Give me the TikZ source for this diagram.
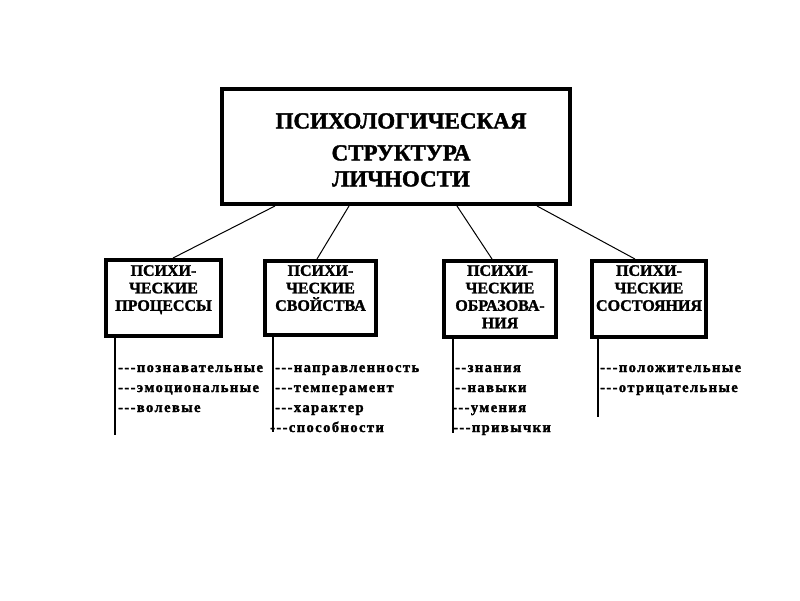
\documentclass[tikz,border=0pt]{standalone}
\usepackage{fontspec}
\setmainfont{Liberation Serif}[BoldFont={Liberation Serif Bold}]
\newfontfamily\boldfont{Liberation Serif Bold}[FakeBold=1.6]
\newfontfamily\itemfont{Liberation Serif Bold}[LetterSpace=10, FakeBold=2]
\usetikzlibrary{positioning}

\newcommand{\dsh}{-\kern1.4pt}

\tikzset{
  topbox/.style={draw, line width=4pt, minimum width=348pt, minimum height=115pt, inner sep=0pt},
  subbox/.style={draw, line width=4pt, inner sep=0pt},
  toptext/.style={anchor=north, align=center, inner sep=0pt, font=\fontsize{23}{29}\boldfont},
  boxtext/.style={anchor=north, align=center, inner sep=0pt, font=\fontsize{16}{17.5}\boldfont},
  item/.style={anchor=base west, inner sep=0pt, font=\fontsize{14.5}{16}\itemfont},
  link/.style={line width=1pt},
  stem/.style={line width=1.5pt}
}

\begin{document}
\begin{tikzpicture}[x=1pt, y=-1pt]
  \useasboundingbox (0,0) rectangle (800,600);

  % Boxes
  \node[topbox] (main) at (396,146.5) {};
  \node[toptext] (maintext) at (401,113)
    {ПСИХОЛОГИЧЕСКАЯ\\[3pt] СТРУКТУРА\\[-3pt] ЛИЧНОСТИ};

  \node[subbox, minimum width=115pt, minimum height=76pt] (proc) at (163.5,298) {};
  \node[subbox, minimum width=111pt, minimum height=74pt] (svoj) at (320.5,298) {};
  \node[subbox, minimum width=112pt, minimum height=76pt] (obraz) at (500,299) {};
  \node[subbox, minimum width=114pt, minimum height=76pt] (sost) at (649,299) {};

  \node[boxtext] (proctext) at (163.5,265) {ПСИХИ-\\ЧЕСКИЕ\\ПРОЦЕССЫ};
  \node[boxtext] (svojtext) at (320.5,265) {ПСИХИ-\\ЧЕСКИЕ\\СВОЙСТВА};
  \node[boxtext] (obraztext) at (500,265) {ПСИХИ-\\ЧЕСКИЕ\\ОБРАЗОВА-\\НИЯ};
  \node[boxtext] (sosttext) at (649,265) {ПСИХИ-\\ЧЕСКИЕ\\СОСТОЯНИЯ};

  % Lists
  \node[item] (proc1) at (118,372) {\dsh\dsh\dsh познавательные};
  \node[item] (proc2) at (118,392) {\dsh\dsh\dsh эмоциональные};
  \node[item] (proc3) at (118,412) {\dsh\dsh\dsh волевые};

  \node[item] (svoj1) at (275,372) {\dsh\dsh\dsh направленность};
  \node[item] (svoj2) at (275,392) {\dsh\dsh\dsh темперамент};
  \node[item] (svoj3) at (275,412) {\dsh\dsh\dsh характер};
  \node[item] (svoj4) at (270,432) {\dsh\dsh\dsh способности};

  \node[item] (obraz1) at (455,372) {\dsh\dsh знания};
  \node[item] (obraz2) at (455,392) {\dsh\dsh навыки};
  \node[item] (obraz3) at (452,412) {\dsh\dsh\dsh умения};
  \node[item] (obraz4) at (453,432) {\dsh\dsh\dsh привычки};

  \node[item] (sost1) at (600,372) {\dsh\dsh\dsh положительные};
  \node[item] (sost2) at (600,392) {\dsh\dsh\dsh отрицательные};

  % Drawing
  \draw[link] ([xshift=-121pt]main.south) -- ([xshift=9.5pt]proc.north);
  \draw[link] ([xshift=-47pt]main.south) -- ([xshift=-3.5pt]svoj.north);
  \draw[link] ([xshift=61pt]main.south) -- ([xshift=-8pt]obraz.north);
  \draw[link] ([xshift=141pt]main.south) -- ([xshift=-14pt]sost.north);

  \draw[stem] ([xshift=11pt]proc.south west) -- ++(0,97);
  \draw[stem] ([xshift=10pt]svoj.south west) -- ++(0,95);
  \draw[stem] ([xshift=11pt]obraz.south west) -- ++(0,94);
  \draw[stem] ([xshift=8pt]sost.south west) -- ++(0,78);
\end{tikzpicture}
\end{document}
